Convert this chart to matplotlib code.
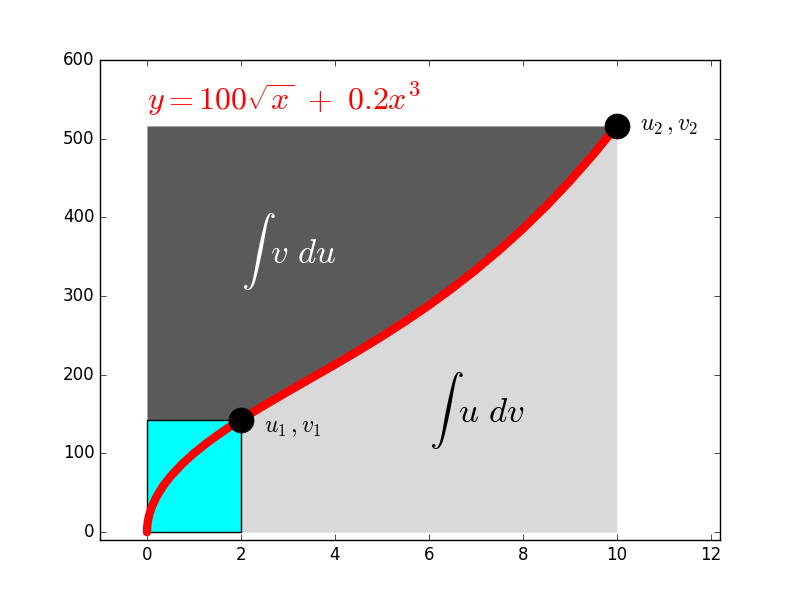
import matplotlib
matplotlib.use('Agg')
import matplotlib.pyplot as plt
import numpy as np

plt.style.use('classic')

xs = [0, 0.005, 0.02, 0.05, 0.1, 0.2, 0.35, 0.5, 0.75, 1.0, 1.25, 1.5, 1.75, 2.0,
      2.5, 3.0, 3.5, 4.0, 4.5, 5.0, 5.5, 6.0, 6.5, 7.0, 7.5, 8.0, 8.5, 9.0, 9.5, 10.0]
ys = [0, 7.1, 14.1, 22.4, 31.6, 44.7, 59.2, 70.7, 86.7, 100.2, 112.2, 123.1, 133.4, 143.0,
      161.2, 178.6, 195.7, 212.8, 230.3, 248.6, 267.8, 288.1, 309.9, 333.2, 358.3,
      385.2, 414.4, 445.8, 479.7, 516.2]
u1, v1 = 2.0, 143.0
u2, v2 = 10.0, 516.2

x = np.array(xs)
y = np.array(ys)

fig = plt.figure(figsize=(8, 6), dpi=100)
ax = fig.add_subplot(111)

# dark region: left of the curve, between v1 and v2
top = y >= v1
ax.fill_betweenx(y[top], 0, x[top], color='#5a5a5a', lw=0)
# light region: under the curve from u1 to u2
right = x >= u1
ax.fill_between(x[right], 0, y[right], color='#d9d9d9', lw=0)
# rectangle u1*v1
ax.add_patch(plt.Rectangle((0, 0), u1, v1, facecolor='cyan', edgecolor='k', lw=1))

ax.plot(x, y, color='red', lw=6, solid_capstyle='round', zorder=3)
ax.plot([u1, u2], [v1, v2], 'o', color='k', ms=18, zorder=4)

ax.text(2.5, 133, r'$u_1\,,v_1$', fontsize=17, va='center')
ax.text(10.5, 518, r'$u_2\,,v_2$', fontsize=17, va='center')
ax.text(2.0, 356, r'$\int\ v\ du$', fontsize=25, color='white', va='center')
ax.text(6.0, 155, r'$\int\ u\ dv$', fontsize=25, color='k', va='center')
ax.text(0, 537, r'$y = 100\sqrt{x}\ +\ 0.2x^3$', fontsize=23, color='red')

ax.set_xlim(-1, 12.2)
ax.set_ylim(-10, 600)

fig.savefig('out.png', dpi=100, facecolor='white')
